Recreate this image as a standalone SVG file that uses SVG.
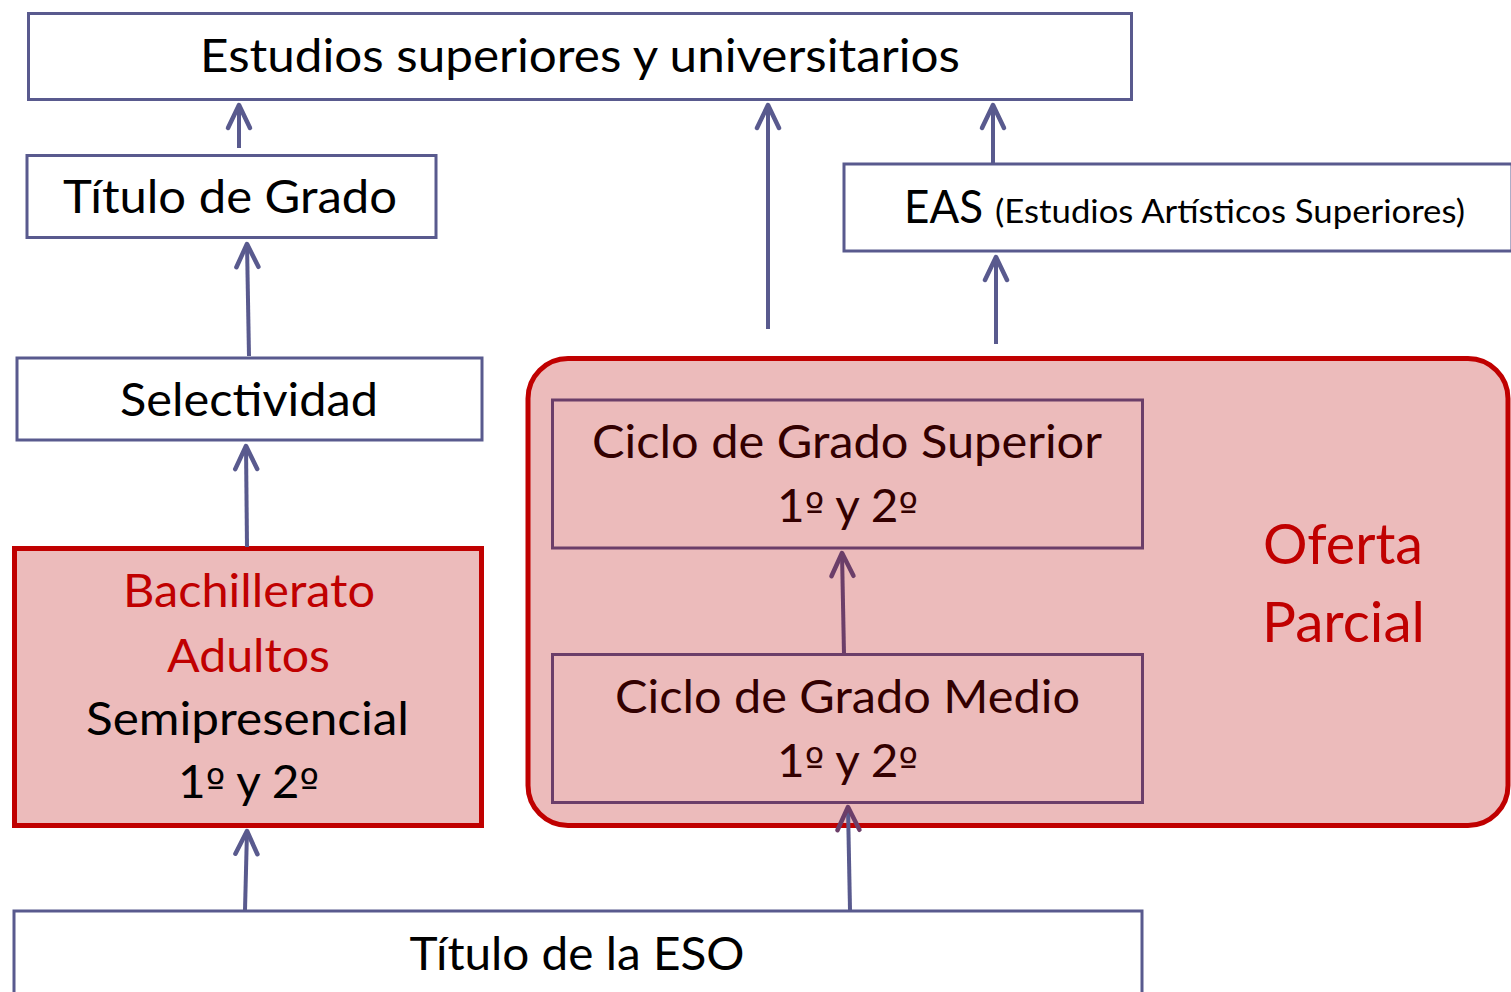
<svg xmlns="http://www.w3.org/2000/svg" width="1511" height="992" viewBox="0 0 1511 992">
<defs>
<style>
.box{fill:#ffffff;stroke:#595A8E;stroke-width:3}
.red{fill:#ECBBBB;stroke:#C00000;stroke-width:5}
.pbox{fill:none;stroke:#6B3E69;stroke-width:3}
.t{font-family:Lato,"Liberation Sans",sans-serif;font-size:46px;fill:#000;text-anchor:middle}
.big{font-size:57px}
.small{font-size:32px}
.o{font-family:"DejaVu Sans",sans-serif;font-size:40px}
.tr{fill:#C00000}
.td{fill:#330000}
.c{fill:none;stroke:#595A8E;stroke-width:4}
.cp{fill:none;stroke:#6B3E69;stroke-width:4}
</style>
<marker id="ah" viewBox="-28 -16 32 32" markerWidth="32" markerHeight="32" refX="0" refY="0" orient="auto" markerUnits="userSpaceOnUse">
<path d="M-23,-11 L0,0 L-23,11" fill="none" stroke="#595A8E" stroke-width="4.5" stroke-linecap="round" stroke-linejoin="round"/>
</marker>
<marker id="ahp" viewBox="-28 -16 32 32" markerWidth="32" markerHeight="32" refX="0" refY="0" orient="auto" markerUnits="userSpaceOnUse">
<path d="M-23,-11 L0,0 L-23,11" fill="none" stroke="#6B3E69" stroke-width="4.5" stroke-linecap="round" stroke-linejoin="round"/>
</marker>
</defs>
<rect width="1511" height="992" fill="#ffffff"/>

<g id="oferta-parcial">
<rect class="red" x="528" y="358.5" width="980" height="467" rx="40" ry="40"/>
<text class="t tr big" x="1343" y="564" textLength="160" lengthAdjust="spacingAndGlyphs">Oferta</text>
<text class="t tr big" x="1343.5" y="642" textLength="163" lengthAdjust="spacingAndGlyphs">Parcial</text>
</g>

<g id="estudios-superiores">
<rect class="box" x="28.5" y="13.5" width="1103" height="86"/>
<text class="t" x="580" y="72" textLength="760" lengthAdjust="spacingAndGlyphs">Estudios superiores y universitarios</text>
</g>

<g id="titulo-grado">
<rect class="box" x="27" y="155.5" width="409" height="82"/>
<text class="t" x="230" y="213" textLength="334" lengthAdjust="spacingAndGlyphs">Título de Grado</text>
</g>

<g id="selectividad">
<rect class="box" x="17" y="358" width="465" height="82"/>
<text class="t" x="249" y="416" textLength="258" lengthAdjust="spacingAndGlyphs">Selectividad</text>
</g>

<g id="bachillerato">
<rect class="red" x="14.5" y="548.5" width="467" height="277"/>
<text class="t tr" x="249" y="607" textLength="252" lengthAdjust="spacingAndGlyphs">Bachillerato</text>
<text class="t tr" x="248.5" y="672" textLength="163" lengthAdjust="spacingAndGlyphs">Adultos</text>
<text class="t" x="247.5" y="735" textLength="323" lengthAdjust="spacingAndGlyphs">Semipresencial</text>
<text class="t" x="248.5" y="798" textLength="141" lengthAdjust="spacingAndGlyphs">1<tspan class="o">º</tspan> y 2<tspan class="o">º</tspan></text>
</g>

<g id="eas">
<rect class="box" x="844" y="164" width="668" height="87"/>
<text class="t" x="904" y="223" style="text-anchor:start" textLength="79" lengthAdjust="spacingAndGlyphs">EAS</text>
<text class="t small" x="995" y="223" style="text-anchor:start" textLength="470" lengthAdjust="spacingAndGlyphs">(Estudios Artísticos Superiores)</text>
</g>

<g id="ciclo-superior">
<rect class="pbox" x="552.5" y="400" width="590" height="148"/>
<text class="t td" x="847" y="458" textLength="510" lengthAdjust="spacingAndGlyphs">Ciclo de Grado Superior</text>
<text class="t td" x="847.5" y="522" textLength="141" lengthAdjust="spacingAndGlyphs">1<tspan class="o">º</tspan> y 2<tspan class="o">º</tspan></text>
</g>

<g id="ciclo-medio">
<rect class="pbox" x="552.5" y="654.5" width="590" height="148"/>
<text class="t td" x="847.5" y="713" textLength="465" lengthAdjust="spacingAndGlyphs">Ciclo de Grado Medio</text>
<text class="t td" x="847.5" y="777" textLength="141" lengthAdjust="spacingAndGlyphs">1<tspan class="o">º</tspan> y 2<tspan class="o">º</tspan></text>
</g>

<g id="titulo-eso">
<rect class="box" x="14" y="911" width="1128" height="100"/>
<text class="t" x="577" y="970" textLength="335" lengthAdjust="spacingAndGlyphs">Título de la ESO</text>
</g>

<g id="connectors">
<line class="c" x1="239" y1="148" x2="239" y2="105" marker-end="url(#ah)"/>
<line class="c" x1="249" y1="356" x2="247" y2="244" marker-end="url(#ah)"/>
<line class="c" x1="247" y1="547" x2="246" y2="446" marker-end="url(#ah)"/>
<line class="c" x1="245" y1="910" x2="247" y2="831" marker-end="url(#ah)"/>
<line class="c" x1="768" y1="329" x2="768" y2="105" marker-end="url(#ah)"/>
<line class="c" x1="993" y1="163" x2="993" y2="105" marker-end="url(#ah)"/>
<line class="c" x1="996" y1="344" x2="996" y2="257" marker-end="url(#ah)"/>
<line class="c" x1="850" y1="910" x2="848" y2="807" marker-end="url(#ahp)"/>
<line class="cp" x1="844" y1="654" x2="842" y2="553" marker-end="url(#ahp)"/>
</g>
</svg>
